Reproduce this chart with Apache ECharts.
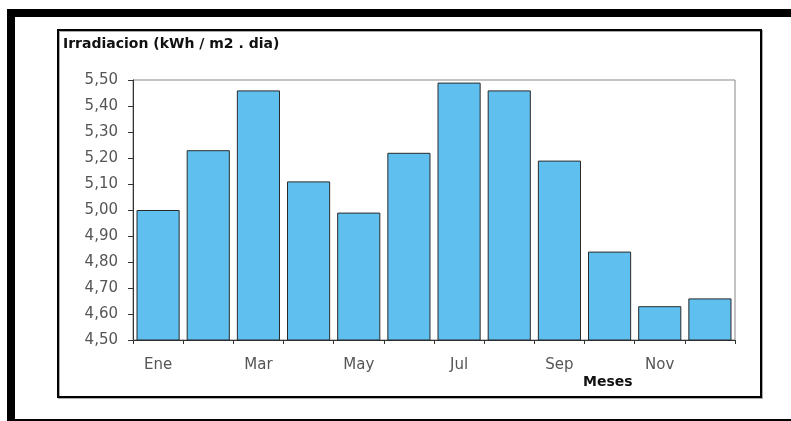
<!DOCTYPE html>
<html><head><meta charset="utf-8">
<script src="https://cdn.jsdelivr.net/npm/echarts@6/dist/echarts.min.js"></script>
<style>html,body{margin:0;padding:0;background:#fff}#c{width:791px;height:421px}</style>
</head><body><div id="c"></div>
<script>
const categories = ['Ene','Feb','Mar','Abr','May','Jun','Jul','Ago','Sep','Oct','Nov','Dic'];
const irradiacion = [5.00, 5.23, 5.46, 5.11, 4.99, 5.22, 5.49, 5.46, 5.19, 4.84, 4.63, 4.66];
const yTicks = [4.5, 5.5, 0.1]; // min, max, interval
const titleText = 'Irradiacion (kWh / m2 . dia)';
const xName = 'Meses';

const chart = echarts.init(document.getElementById('c'), null, {renderer:'canvas'});
chart.setOption({
  animation:false,
  backgroundColor:'#fff',
  graphic:[
    {type:'rect', shape:{x:11,y:13,width:800,height:410}, style:{fill:'none',stroke:'#000',lineWidth:8}, z:100},
    {type:'rect', shape:{x:59,y:31,width:703,height:367}, style:{fill:'none',stroke:'#aaa',lineWidth:2}, z:99},
    {type:'rect', shape:{x:58,y:30,width:703,height:367}, style:{fill:'none',stroke:'#000',lineWidth:2}, z:100},
    {type:'text', left:63, top:37, style:{text:titleText, font:'bold 14px "DejaVu Sans", sans-serif', fill:'#111'}},
    {type:'text', left:583, top:375, style:{text:xName, font:'bold 14px "DejaVu Sans", sans-serif', fill:'#111'}}
  ],
  grid:{left:133, right:56, top:80, bottom:81, show:true, borderColor:'#888', borderWidth:1, backgroundColor:'#fff'},
  xAxis:{
    type:'category', data:categories,
    axisLine:{lineStyle:{color:'#333',width:1}},
    axisTick:{show:true, alignWithLabel:false, interval:0, length:4, lineStyle:{color:'#333'}},
    axisLabel:{interval:1, color:'#555', fontSize:15, margin:18, fontFamily:'"DejaVu Sans", sans-serif'}
  },
  yAxis:{
    type:'value', min:yTicks[0], max:yTicks[1], interval:yTicks[2],
    axisLine:{show:true, lineStyle:{color:'#333',width:1}},
    axisTick:{show:true, length:5, lineStyle:{color:'#333'}},
    splitLine:{show:false},
    axisLabel:{color:'#555', fontSize:15, margin:15, fontFamily:'"DejaVu Sans", sans-serif',
      formatter:v=>v.toFixed(2).replace('.',',')}
  },
  series:[{
    type:'bar', data:irradiacion, barCategoryGap:'14%',
    itemStyle:{color:'#5fc0f0', borderColor:'#2a2a2a', borderWidth:1}
  }]
});
</script></body></html>
